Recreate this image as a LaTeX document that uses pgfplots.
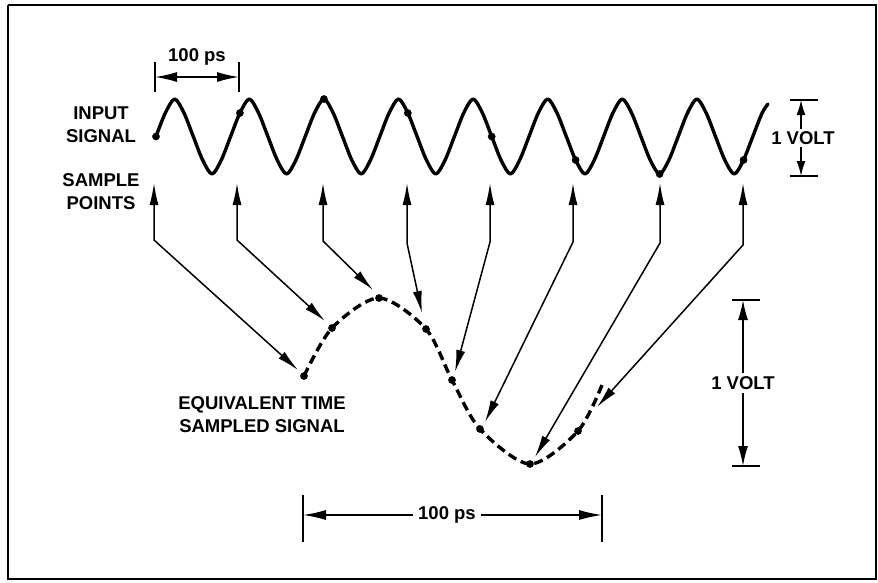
\documentclass[border=0pt]{standalone}
\usepackage{fontspec}
\setmainfont{Liberation Sans}
\usepackage{pgfplots}
\pgfplotsset{compat=1.18}
\usetikzlibrary{arrows.meta}
\newcommand{\lbl}{\fontsize{18.5}{23}\selectfont\bfseries}
\begin{document}
\begin{tikzpicture}
\begin{axis}[width=878pt,height=582pt,scale only axis,
  xmin=0,xmax=878,ymin=0,ymax=582,y dir=reverse,hide axis,clip=false]
% bounding box
\addplot[draw=none] coordinates {(0,0) (878,582)};
% frame
\addplot[black,line width=2pt] coordinates {(8,5) (876,5) (876,579) (8,579) (8,5)};
% input signal
\addplot[black,line width=3.4pt,smooth,line join=round,line cap=round] coordinates {
(156.0,136.5) (165.3,113) (174.7,99) (184.0,113) (193.3,136.5) (202.6,160) (212.0,174) (221.3,160)
(230.6,136.5) (239.9,113) (249.3,99) (258.6,113) (267.9,136.5) (277.2,160) (286.6,174) (295.9,160)
(305.2,136.5) (314.5,113) (323.9,99) (333.2,113) (342.5,136.5) (351.8,160) (361.2,174) (370.5,160)
(379.8,136.5) (389.1,113) (398.5,99) (407.8,113) (417.1,136.5) (426.4,160) (435.8,174) (445.1,160)
(454.4,136.5) (463.7,113) (473.1,99) (482.4,113) (491.7,136.5) (501.0,160) (510.4,174) (519.7,160)
(529.0,136.5) (538.3,113) (547.7,99) (557.0,113) (566.3,136.5) (575.6,160) (585.0,174) (594.3,160)
(603.6,136.5) (612.9,113) (622.3,99) (631.6,113) (640.9,136.5) (650.2,160) (659.6,174) (668.9,160)
(678.2,136.5) (687.5,113) (696.9,99) (706.2,113) (715.5,136.5) (724.8,160) (734.2,174) (743.5,160)
(752.8,136.5) (762.1,113) (768.0,104)};
% sample points on input
\addplot[only marks,mark=*,mark size=3.6pt,black] coordinates {
(156,136.5) (239.9,113) (323.9,99) (407.8,113) (491.7,136.5) (575.6,160) (659.6,174) (743.5,160)};
% equivalent time sampled signal
\addplot[black,line width=3.4pt,smooth,dash pattern=on 9pt off 5pt] coordinates {
(304,376) (332,328) (379,298) (426,329) (452,380) (480,429) (530,464) (578,431) (602,385)};
\addplot[only marks,mark=*,mark size=3.6pt,black] coordinates {
(304,376) (332,328) (379,298) (426,329) (452,380) (480,429) (530,464) (578,431)};
% sample arrows
\pgfplotsset{sarrow/.style={black,line width=1.5pt,
  {Latex[length=22pt,width=9pt]}-{Latex[length=22pt,width=9pt]}}}
\addplot[sarrow] coordinates {(154,183) (154,240) (298,370)};
\addplot[sarrow] coordinates {(237,183) (237,240) (325,321)};
\addplot[sarrow] coordinates {(323,183) (323,241) (373,290)};
\addplot[sarrow] coordinates {(407,183) (407,243) (422,313)};
\addplot[sarrow] coordinates {(490,183) (490,242) (455,372)};
\addplot[sarrow] coordinates {(573,183) (573,242) (485,422)};
\addplot[sarrow] coordinates {(660,183) (660,243) (535,457)};
\addplot[sarrow] coordinates {(743,183) (743,245) (597,407)};
% top 100 ps bracket
\addplot[black,line width=1.5pt] coordinates {(155,62) (155,92)};
\addplot[black,line width=1.5pt] coordinates {(239,62) (239,92)};
\addplot[black,line width=1.5pt,{Latex[length=22pt,width=10pt]}-{Latex[length=22pt,width=10pt]}] coordinates {(155,77) (239,77)};
% bottom 100 ps bracket
\addplot[black,line width=1.5pt] coordinates {(303,495) (303,542)};
\addplot[black,line width=1.5pt] coordinates {(602,495) (602,542)};
\addplot[black,line width=1.5pt,{Latex[length=23pt,width=10pt]}-{Latex[length=23pt,width=10pt]}] coordinates {(303,515) (602,515)};
% top 1 volt bracket
\addplot[black,line width=1.5pt] coordinates {(790,100) (818,100)};
\addplot[black,line width=1.5pt] coordinates {(790,176) (818,176)};
\addplot[black,line width=1.5pt,{Latex[length=15pt,width=9pt]}-{Latex[length=15pt,width=9pt]}] coordinates {(801,100) (801,176)};
% right 1 volt bracket
\addplot[black,line width=1.5pt] coordinates {(732,300) (760,300)};
\addplot[black,line width=1.5pt] coordinates {(732,466) (760,466)};
\addplot[black,line width=1.5pt,{Latex[length=20pt,width=10pt]}-{Latex[length=20pt,width=10pt]}] coordinates {(743,300) (743,466)};
% labels
\node[font=\lbl] at (axis cs:197,57) {100 ps};
\node[font=\lbl,fill=white,inner xsep=5pt,inner ysep=2pt] at (axis cs:447,515) {100 ps};
\node[font=\lbl,fill=white,inner xsep=1pt,inner ysep=2pt] at (axis cs:803,138) {1 VOLT};
\node[font=\lbl,fill=white,inner xsep=1pt,inner ysep=3pt] at (axis cs:743,383) {1 VOLT};
\node[font=\lbl,align=center] at (axis cs:101,125) {INPUT\\SIGNAL};
\node[font=\lbl,align=center] at (axis cs:101,192) {SAMPLE\\POINTS};
\node[font=\lbl,align=center] at (axis cs:262,415) {EQUIVALENT TIME\\SAMPLED SIGNAL};
\end{axis}
\end{tikzpicture}
\end{document}
